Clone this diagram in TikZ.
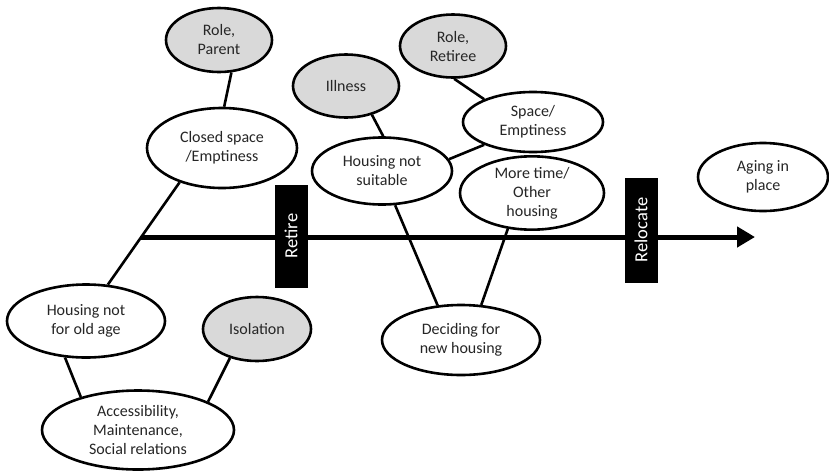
\documentclass[tikz,border=0pt]{standalone}
\usepackage{fontspec}
\setmainfont{Carlito}
\usetikzlibrary{shapes.geometric,arrows.meta}
\definecolor{bub}{HTML}{D9D9D9}
\definecolor{txt}{HTML}{262626}
\tikzset{
  bubble/.style={ellipse, draw=black, line width=2.6pt, fill=white, inner sep=0pt,
     align=center, font=\fontsize{16}{19}\selectfont, text=txt},
  greybubble/.style={bubble, fill=bub},
  link/.style={line width=2.6pt, draw=black},
  stage/.style={rectangle, fill=black, rotate=90, minimum height=33pt, inner sep=0pt,
     text=white, font=\fontsize{18.5}{20}\selectfont}
}
\begin{document}
\begin{tikzpicture}[x=1pt,y=-1pt]
\useasboundingbox[fill=white] (0,0) rectangle (829,472);
% axis
\coordinate (axs) at (141,237);
\coordinate (axe) at (755,237);
\draw[line width=5pt, -{Triangle[length=18pt,width=20pt]}] (axs) -- (axe);
\node[stage, minimum width=103pt] (retire) at (291,236) {Retire};
\node[stage, minimum width=105pt] (relocate) at (641,230) {Relocate};
% bubbles
\node[greybubble, minimum width=106pt, minimum height=64pt] (rp) at (219,40) {Role,\\Parent};
\node[bubble, minimum width=150pt, minimum height=80pt] (cs) at (222,148) {Closed space\\/Emptiness};
\node[greybubble, minimum width=106pt, minimum height=63pt] (ill) at (346,86) {Illness};
\node[bubble, minimum width=140pt, minimum height=67pt] (hns) at (382,171) {Housing not\\suitable};
\node[greybubble, minimum width=106pt, minimum height=63pt] (rr) at (453,46) {Role,\\Retiree};
\node[bubble, minimum width=140pt, minimum height=60pt] (se) at (533,122) {Space/\\Emptiness};
\node[bubble, minimum width=144pt, minimum height=70pt] (mt) at (532,193) {More time/\\Other\\housing};
\node[bubble, minimum width=130pt, minimum height=68pt] (aip) at (763,177) {Aging in\\place};
\node[bubble, minimum width=158pt, minimum height=73pt] (hnoa) at (86,321) {Housing not\\for old age};
\node[greybubble, minimum width=108pt, minimum height=64pt] (iso) at (257,329) {Isolation};
\node[bubble, minimum width=192pt, minimum height=79pt] (acc) at (138,430) {Accessibility,\\Maintenance,\\Social relations};
\node[bubble, minimum width=158pt, minimum height=70pt] (dec) at (461,340) {Deciding for\\new housing};
% links
\draw[link] (rp.-69) -- (cs.87);
\draw[link] (cs.-141) -- (hnoa.59);
\draw[link] (ill.-48) -- (hns.88);
\draw[link] (hns.-69) -- (dec.124);
\draw[link] (rr.-88) -- (se.155);
\draw[link] (se.-155) -- (hns.10);
\draw[link] (mt.-124) -- (dec.60);
\draw[link] (hnoa.-120) -- (acc.150);
\draw[link] (iso.-133) -- (acc.22);
\end{tikzpicture}
\end{document}
